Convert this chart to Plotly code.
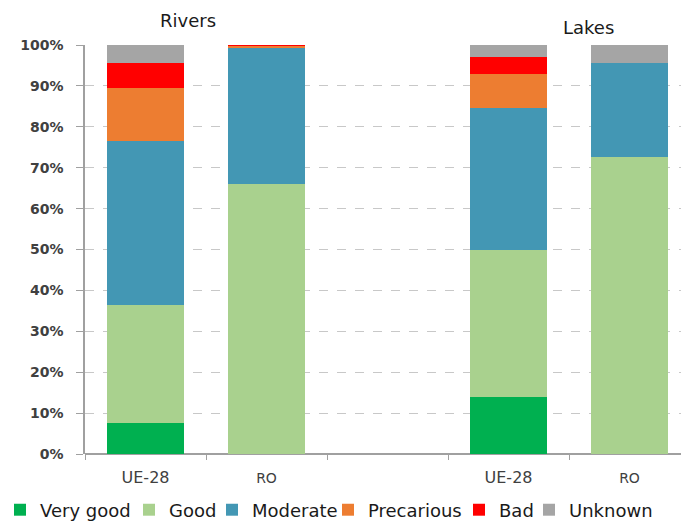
import plotly.graph_objects as go

# Category slots along the x axis (the empty slot separates the two groups)
slots = ["UE-28", "RO", "", "UE-28", "RO"]
bar_slots = [0, 1, 3, 4]

statuses = ["Very good", "Good", "Moderate", "Precarious", "Bad", "Unknown"]
colors = ["#00B050", "#A9D18E", "#4397B4", "#ED7D31", "#FF0000", "#A5A5A5"]

# Share of water bodies by ecological status (%), order: Rivers UE-28, Rivers RO, Lakes UE-28, Lakes RO
very_good = [7.5, 0.0, 14.0, 0.0]
good = [29.0, 66.0, 36.0, 72.5]
moderate = [40.0, 33.5, 34.5, 23.0]
precarious = [13.0, 0.3, 8.5, 0.0]
bad = [6.0, 0.2, 4.0, 0.0]
unknown = [4.5, 0.0, 3.0, 4.5]

series = [very_good, good, moderate, precarious, bad, unknown]

group_titles = ["Rivers", "Lakes"]

W, H = 681, 521
# left edge (px) of each legend entry along the bottom row
legend_left = [0, 129, 212, 328, 459, 529]

fig = go.Figure()
for i, (name, color, vals) in enumerate(zip(statuses, colors, series)):
    lg = "legend" if i == 0 else f"legend{i + 1}"
    fig.add_trace(go.Bar(
        x=bar_slots, y=vals, name=name, legend=lg,
        marker=dict(color=color, line=dict(width=0)),
        width=0.64,
    ))

legend_style = dict(
    orientation="h", xanchor="left", xref="container",
    y=1 - 510 / H, yanchor="middle", yref="container",
    font=dict(family="DejaVu Sans", size=18, color="#1a1a1a"),
    itemwidth=30, bgcolor="rgba(0,0,0,0)", borderwidth=0,
)
legends = {}
for i, left in enumerate(legend_left):
    key = "legend" if i == 0 else f"legend{i + 1}"
    legends[key] = dict(legend_style, x=left / W)


def slot_label(s):
    # the country code is set smaller than the EU label
    if s == "RO":
        return "<span style='font-size:14px'>RO</span>"
    return s


fig.update_layout(
    barmode="stack",
    width=W, height=H,
    margin=dict(l=85, r=0, t=45, b=67, autoexpand=False),
    paper_bgcolor="white", plot_bgcolor="white",
    showlegend=True,
    **legends,
    xaxis=dict(
        range=[-0.5, -0.5 + 596 / 121],
        tickvals=[i for i, s in enumerate(slots) if s],
        ticktext=[slot_label(s) for s in slots if s],
        ticks="", showgrid=False, zeroline=False,
        showline=False, ticklabelstandoff=12, automargin=False,
        tickfont=dict(family="DejaVu Sans", size=16, color="#404040"),
        minor=dict(tickvals=[i - 0.5 for i in range(len(slots) + 1)],
                   ticks="outside", ticklen=5, tickcolor="#a0a0a0", showgrid=False),
    ),
    yaxis=dict(
        range=[0, 100], tickvals=list(range(0, 101, 10)),
        ticktext=[f"{v}%" for v in range(0, 101, 10)],
        tickfont=dict(family="DejaVu Sans", size=14, color="#404040", weight="bold"),
        showgrid=True, gridcolor="#c8c8c8", griddash="dash", gridwidth=1,
        showline=True, linecolor="#a0a0a0", linewidth=1.5,
        ticks="outside", ticklen=7, tickcolor="#a0a0a0",
        ticklabelstandoff=10, automargin=False,
        zeroline=True, zerolinecolor="#a0a0a0", zerolinewidth=1.5,
    ),
)

title_pos = [(0.355, 1.061), (3.66, 1.044)]
for text, (px, py) in zip(group_titles, title_pos):
    fig.add_annotation(
        x=px, y=py, xref="x", yref="paper", yanchor="middle", xanchor="center",
        text=text, showarrow=False,
        font=dict(family="DejaVu Sans", size=18, color="#1a1a1a"),
    )

fig.write_html("out.html")
